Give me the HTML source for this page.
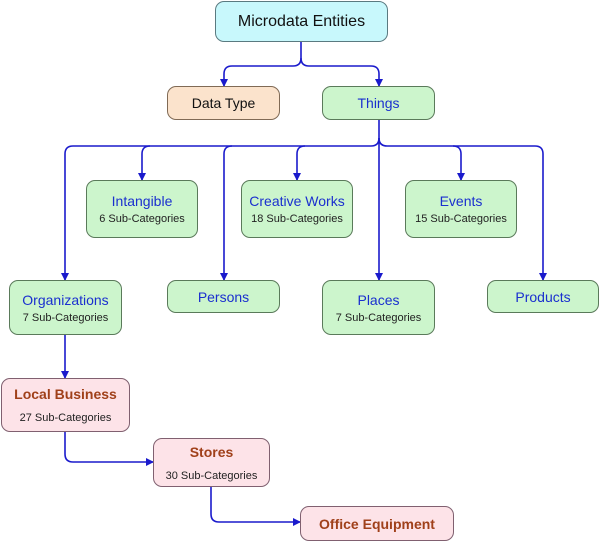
<!DOCTYPE html>
<html><head><style>
body{margin:0;background:#fff;width:600px;height:542px;overflow:hidden;position:relative;font-family:"Liberation Sans",Arial,sans-serif}
.b{position:absolute;box-sizing:border-box;border:1.5px solid #556b55;border-radius:9px;text-align:center;display:flex;flex-direction:column;justify-content:center;align-items:center}
.g{background:#ccf5cc;border-color:#5a7a5a}
.g .t{color:#1a2fcf;font-size:14px}
.s{font-size:11px;color:#222;margin-top:4px}
.p{background:#fde3e8;border-color:#806070}
.p .t{color:#a0401a;font-size:14px;font-weight:bold}
</style></head><body>
<svg width="600" height="542" style="position:absolute;left:0;top:0" fill="none" stroke="#1a1acc" stroke-width="1.6">
<defs><marker id="a" markerWidth="8" markerHeight="8" refX="7" refY="4" orient="auto" markerUnits="userSpaceOnUse"><path d="M0,0 L8,4 L0,8z" fill="#1a1acc" stroke="none"/></marker></defs>
<path d="M301,42 V58 Q301,66 293,66 H232 Q224,66 224,74 V86" marker-end="url(#a)"/>
<path d="M301,58 Q301,66 309,66 H371 Q379,66 379,74 V86" marker-end="url(#a)"/>
<path d="M379,120 V280" marker-end="url(#a)"/>
<path d="M379,138 Q379,146 371,146 H73 Q65,146 65,154 V280" marker-end="url(#a)"/>
<path d="M379,138 Q379,146 387,146 H535 Q543,146 543,154 V280" marker-end="url(#a)"/>
<path d="M150,146 Q142,146 142,154 V180" marker-end="url(#a)"/>
<path d="M232,146 Q224,146 224,154 V280" marker-end="url(#a)"/>
<path d="M305,146 Q297,146 297,154 V180" marker-end="url(#a)"/>
<path d="M453,146 Q461,146 461,154 V180" marker-end="url(#a)"/>
<path d="M65,335 V378" marker-end="url(#a)"/>
<path d="M65,432 V454 Q65,462 73,462 H153" marker-end="url(#a)"/>
<path d="M211,487 V514 Q211,522 219,522 H300" marker-end="url(#a)"/>
</svg>
<div class="b" style="left:215px;top:1px;width:173px;height:41px;background:#c8f8fc;border-color:#5a7a80;font-size:16px;color:#111">Microdata Entities</div>
<div class="b" style="left:167px;top:86px;width:113px;height:34px;background:#fbe3cc;border-color:#806a55;font-size:14px;color:#111">Data Type</div>
<div class="b g" style="left:322px;top:86px;width:113px;height:34px"><div class="t">Things</div></div>
<div class="b g" style="left:86px;top:180px;width:112px;height:58px"><div class="t">Intangible</div><div class="s">6 Sub-Categories</div></div>
<div class="b g" style="left:241px;top:180px;width:112px;height:58px"><div class="t">Creative Works</div><div class="s">18 Sub-Categories</div></div>
<div class="b g" style="left:405px;top:180px;width:112px;height:58px"><div class="t">Events</div><div class="s">15 Sub-Categories</div></div>
<div class="b g" style="left:9px;top:280px;width:113px;height:55px"><div class="t">Organizations</div><div class="s">7 Sub-Categories</div></div>
<div class="b g" style="left:167px;top:280px;width:113px;height:33px"><div class="t">Persons</div></div>
<div class="b g" style="left:322px;top:280px;width:113px;height:55px"><div class="t">Places</div><div class="s">7 Sub-Categories</div></div>
<div class="b g" style="left:487px;top:280px;width:112px;height:33px"><div class="t">Products</div></div>
<div class="b p" style="left:1px;top:378px;width:129px;height:54px"><div class="t">Local Business</div><div class="s" style="margin-top:10px">27 Sub-Categories</div></div>
<div class="b p" style="left:153px;top:438px;width:117px;height:49px"><div class="t">Stores</div><div class="s" style="margin-top:10px">30 Sub-Categories</div></div>
<div class="b p" style="left:300px;top:506px;width:154px;height:35px"><div class="t">Office Equipment</div></div>
</body></html>
